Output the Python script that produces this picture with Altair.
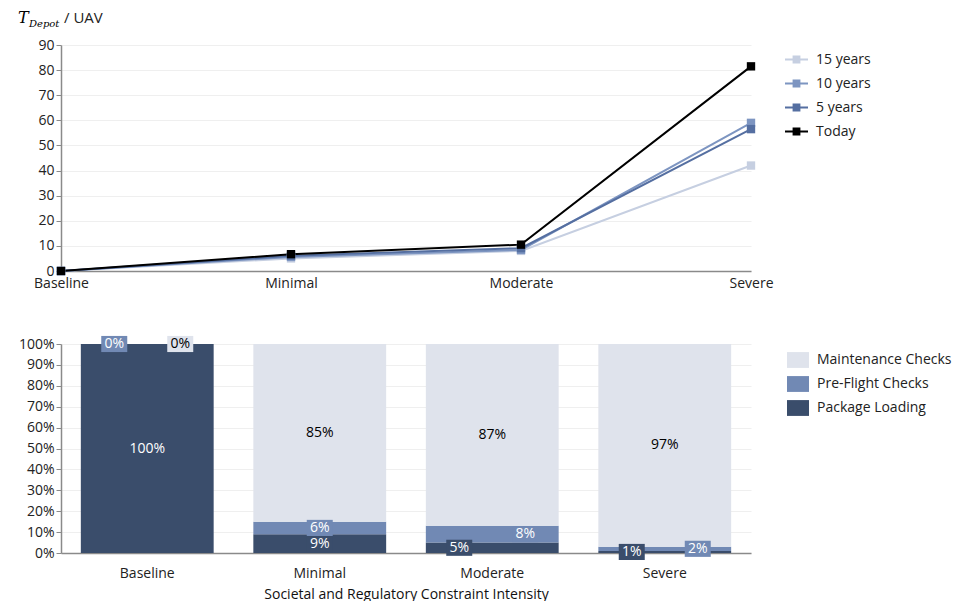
import altair as alt
import pandas as pd

# ---------------- data ----------------
categories = ["Baseline", "Minimal", "Moderate", "Severe"]

horizons = ["15 years", "10 years", "5 years", "Today"]
horizon_colors = ["#C6CFE1", "#7D95C1", "#556FA1", "#000000"]
t_15 = [0, 5.0, 8.0, 42.0]
t_10 = [0, 5.6, 8.4, 59.0]
t_5 = [0, 6.1, 9.1, 56.5]
t_today = [0, 6.7, 10.5, 81.5]

tasks = ["Maintenance Checks", "Pre-Flight Checks", "Package Loading"]
task_colors = ["#DFE3EC", "#7189B4", "#3A4D6B"]
share_loading = [1.00, 0.09, 0.05, 0.01]
share_preflight = [0.00, 0.06, 0.08, 0.02]
share_maint = [0.00, 0.85, 0.87, 0.97]
pct_ticks = [0, 0.1, 0.2, 0.3, 0.4, 0.5, 0.6, 0.7, 0.8, 0.9, 1.0]

FONT = "Open Sans"
FS = 14

# ---------------- top chart ----------------
series = {"15 years": t_15, "10 years": t_10, "5 years": t_5, "Today": t_today}
rows = []
for h, col in zip(horizons, horizon_colors):
    for c, v in zip(categories, series[h]):
        rows.append({"cat": c, "horizon": h, "value": v, "hex": col})
line_df = pd.DataFrame(rows)

xs = alt.X("cat:N", sort=categories, scale=alt.Scale(type="point", padding=0),
           axis=alt.Axis(title=None, labelAngle=0, ticks=False, grid=False,
                         labelPadding=5, labelFontSize=FS))
ys = alt.Y("value:Q", scale=alt.Scale(domain=[0, 90]),
           axis=alt.Axis(title=None, values=list(range(0, 91, 10)), grid=True,
                         minExtent=48, maxExtent=48, labelFontSize=FS, labelOverlap=False))

lines = alt.Chart(line_df).mark_line(strokeWidth=2).encode(
    x=xs, y=ys,
    color=alt.Color("hex:N", scale=None),
    detail="horizon:N",
)
points = alt.Chart(line_df).mark_point(shape="square", filled=True, size=70, opacity=1).encode(
    x=xs, y=ys,
    color=alt.Color("horizon:N",
                    scale=alt.Scale(domain=horizons, range=horizon_colors),
                    legend=alt.Legend(
                        title=None, orient="none", legendX=724, legendY=3,
                        symbolType="M-1,-0.08H1V0.08H-1Z M-0.34,-0.34H0.34V0.34H-0.34Z",
                        symbolSize=529, symbolStrokeWidth=0, labelFontSize=FS,
                        rowPadding=5, labelOffset=8, labelFont=FONT)),
)

title_df = pd.DataFrame({"t": ["T"], "s": ["Depot"], "u": ["/ UAV"]})
t_main = alt.Chart(title_df).mark_text(
    font="DejaVu Serif", fontStyle="italic", fontSize=16, align="left", baseline="alphabetic"
).encode(text="t:N", x=alt.value(-43), y=alt.value(-22))
t_sub = alt.Chart(title_df).mark_text(
    font="DejaVu Serif", fontStyle="italic", fontSize=10, align="left", baseline="alphabetic"
).encode(text="s:N", x=alt.value(-32), y=alt.value(-18))
t_unit = alt.Chart(title_df).mark_text(
    font=FONT, fontSize=15, align="left", baseline="alphabetic", color="#222"
).encode(text="u:N", x=alt.value(3), y=alt.value(-22))

top = alt.layer(lines, points, t_main, t_sub, t_unit).properties(width=690, height=226)

# ---------------- bottom chart ----------------
shares = {"Package Loading": share_loading, "Pre-Flight Checks": share_preflight,
          "Maintenance Checks": share_maint}
stack_order = ["Package Loading", "Pre-Flight Checks", "Maintenance Checks"]
text_colors = {"Package Loading": "white", "Pre-Flight Checks": "white",
               "Maintenance Checks": "black"}
bg_colors = dict(zip(tasks, task_colors))
label_shift = {("Baseline", "Pre-Flight Checks"): -33, ("Baseline", "Maintenance Checks"): 33,
               ("Moderate", "Package Loading"): -33, ("Moderate", "Pre-Flight Checks"): 33,
               ("Severe", "Package Loading"): -33, ("Severe", "Pre-Flight Checks"): 33}
brows = []
for i, c in enumerate(categories):
    base = 0.0
    for k, t in enumerate(stack_order):
        v = shares[t][i]
        brows.append({"cat": c, "task": t, "share": v, "ord": k,
                      "mid": base + v / 2, "label": f"{round(v * 100)}%",
                      "tcol": text_colors[t], "bg": bg_colors[t],
                      "shift": label_shift.get((c, t), 0)})
        base += v
bar_df = pd.DataFrame(brows)

x_axis = alt.Axis(title="Societal and Regulatory Constraint Intensity", labelAngle=0,
                  ticks=False, grid=False, labelPadding=13, labelFontSize=FS,
                  titleFontSize=FS, titleFontWeight="normal", titlePadding=7)
y_axis = alt.Axis(title=None, values=pct_ticks, format=".0%", grid=True,
                  minExtent=48, maxExtent=48, labelFontSize=FS, labelOverlap=False)
xscale = alt.Scale(paddingInner=0.23, paddingOuter=0.115)
yscale = alt.Scale(domain=[0, 1])

bars = alt.Chart(bar_df).mark_bar().encode(
    x=alt.X("cat:N", sort=categories, scale=xscale, axis=x_axis),
    y=alt.Y("share:Q", stack="zero", scale=yscale, axis=y_axis),
    color=alt.Color("task:N", scale=alt.Scale(domain=tasks, range=task_colors),
                    legend=alt.Legend(title=None, orient="none", legendX=726, legendY=5,
                                      symbolType="M-1,-0.72H1V0.72H-1Z", symbolSize=484,
                                      symbolStrokeWidth=0, labelFontSize=FS, rowPadding=5,
                                      labelOffset=8, labelFont=FONT)),
    order=alt.Order("ord:Q", sort="ascending"),
)

layers = [bars]
for sh in [-33, 0, 33]:
    sub = bar_df[bar_df["shift"] == sh]
    box = alt.Chart(sub).mark_point(
        shape="M-1,-0.62H1V0.62H-1Z", size=676, filled=True, opacity=1, strokeWidth=0,
        xOffset=sh
    ).encode(x=alt.X("cat:N", sort=categories, scale=xscale, axis=x_axis),
             y=alt.Y("mid:Q", scale=yscale, axis=y_axis),
             color=alt.Color("bg:N", scale=None))
    txt = alt.Chart(sub).mark_text(font=FONT, fontSize=FS, dx=sh, baseline="middle").encode(
        x=alt.X("cat:N", sort=categories, scale=xscale, axis=x_axis),
        y=alt.Y("mid:Q", scale=yscale, axis=y_axis),
        text="label:N", color=alt.Color("tcol:N", scale=None))
    layers += [box, txt]

bottom = alt.layer(*layers).properties(width=690, height=209)

chart = alt.vconcat(top, bottom, spacing=45).resolve_scale(color="independent").properties(
    padding={"left": 5, "top": 2, "right": 5, "bottom": 0}
).configure_axis(
    labelFont=FONT, titleFont=FONT, labelColor="#222", titleColor="#111",
    domainColor="#8a8a8a", domainWidth=1.5, tickColor="#8a8a8a", tickSize=5,
    gridColor="#efefef", gridWidth=1
).configure_view(stroke=None).configure_legend(labelColor="#222")

chart.save("out.html", embed_options={"renderer": "svg", "actions": False})
